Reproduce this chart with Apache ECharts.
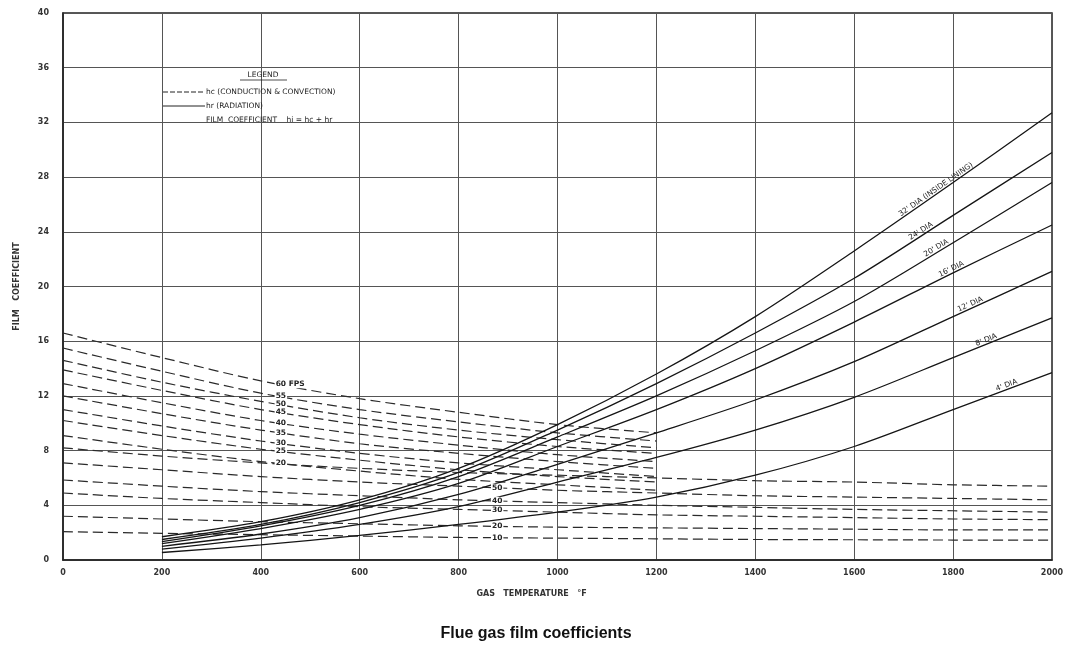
<!DOCTYPE html>
<html><head><meta charset="utf-8">
<script src="https://cdn.jsdelivr.net/npm/echarts@6/dist/echarts.min.js"></script>
<style>html,body{margin:0;padding:0;background:#fff}#c{width:1072px;height:651px}</style>
</head><body><div id="c"></div>
<script>
// ---------- data ----------
const xTickValues = [0,200,400,600,800,1000,1200,1400,1600,1800,2000];
const yTickValues = [0,4,8,12,16,20,24,28,32,36,40];

// convection (dashed), upper family ends at 1200 F
const upperTemps = [0,200,400,600,800,1000,1200];
const upperLabels = ['60 FPS','55','50','45','40','35','30','25','20'];
const hc60 = [16.6,14.8,13.1,11.8,10.8,9.9,9.3];
const hc55 = [15.5,13.8,12.2,11.0,10.1,9.3,8.7];
const hc50 = [14.6,13.0,11.6,10.4,9.5,8.8,8.2];
const hc45 = [13.9,12.4,11.0,9.9,9.0,8.3,7.8];
const hc40 = [12.9,11.5,10.2,9.2,8.4,7.7,7.2];
const hc35 = [12.0,10.7,9.5,8.5,7.8,7.2,6.7];
const hc30 = [11.0,9.8,8.7,7.8,7.1,6.6,6.1];
const hc25 = [10.2,9.1,8.1,7.3,6.6,6.1,5.7];
const hc20 = [9.1,8.1,7.2,6.5,5.9,5.5,5.1];

// convection (dashed), lower family runs to 2000 F
const lowerTemps = [0,200,400,600,800,1000,1200,1400,1600,1800,2000];
const lowerLabels = ['','50','40','30','20','10'];
const hcL1 = [8.2,7.6,7.1,6.7,6.4,6.2,6.0,5.8,5.7,5.5,5.4];
const hcL2 = [7.1,6.6,6.1,5.7,5.4,5.1,4.9,4.7,4.6,4.5,4.4];
const hcL3 = [5.85,5.4,5.0,4.7,4.4,4.2,4.0,3.85,3.7,3.6,3.5];
const hcL4 = [4.9,4.5,4.2,3.9,3.7,3.5,3.3,3.2,3.1,3.0,2.95];
const hcL5 = [3.2,3.0,2.8,2.65,2.5,2.4,2.35,2.3,2.25,2.2,2.2];
const hcL6 = [2.07,1.95,1.85,1.75,1.65,1.6,1.55,1.5,1.48,1.46,1.45];

// radiation (solid)
const radTemps = [200,400,600,800,1000,1200,1400,1600,1800,2000];
const radLabels = ["32' DIA (INSIDE LINING)","24' DIA","20' DIA","16' DIA","12' DIA","8' DIA","4' DIA"];
const hr32 = [1.7,2.8,4.4,6.7,9.9,13.6,17.8,22.6,27.6,32.7];
const hr24 = [1.5,2.6,4.2,6.4,9.5,12.9,16.6,20.6,25.2,29.8];
const hr20 = [1.35,2.5,4.0,6.1,9.0,12.0,15.3,18.9,23.2,27.6];
const hr16 = [1.2,2.3,3.7,5.6,8.3,11.0,14.0,17.4,21.0,24.5];
const hr12 = [1.0,1.9,3.1,4.8,7.0,9.3,11.7,14.5,17.8,21.1];
const hr8  = [0.8,1.6,2.6,3.9,5.7,7.5,9.5,11.9,14.8,17.7];
const hr4  = [0.55,1.1,1.8,2.6,3.5,4.6,6.2,8.3,11.0,13.7];
const radLabelAt = [1770,1739,1770,1800,1838,1870,1911];

// ---------- build ----------
const upperSets = [hc60,hc55,hc50,hc45,hc40,hc35,hc30,hc25,hc20];
const lowerSets = [hcL1,hcL2,hcL3,hcL4,hcL5,hcL6];
const radSets = [hr32,hr24,hr20,hr16,hr12,hr8,hr4];
const zip = (xs, ys) => xs.map((x,i)=>[x, ys[i]]);

const series = [];
const dashStyle = {color:'#2a2a2a', width:1.2, type:[10,5]};
upperSets.forEach((d,i)=>series.push({type:'line', data:zip(upperTemps,d), showSymbol:false, smooth:0.3, lineStyle:dashStyle, silent:true, z:2}));
lowerSets.forEach((d,i)=>series.push({type:'line', data:zip(lowerTemps,d), showSymbol:false, smooth:0.3, lineStyle:dashStyle, silent:true, z:2}));
radSets.forEach((d,i)=>series.push({type:'line', data:zip(radTemps,d), showSymbol:false, smooth:0.3, lineStyle:{color:'#151515', width:1.3}, silent:true, z:3}));

const axisFont = {fontFamily:'DejaVu Sans', fontSize:8, fontWeight:'bold', color:'#333'};
const option = {
  backgroundColor:'#fff',
  animation:false,
  title:{text:'Flue gas film coefficients', left:'center', top:621,
    textStyle:{fontFamily:'Liberation Sans Narrow, Liberation Sans', fontWeight:'bold', fontSize:16, color:'#111'}},
  grid:{left:63, right:20, top:13, bottom:91, show:true, borderColor:'#222', borderWidth:1.5, backgroundColor:'transparent'},
  xAxis:{type:'value', min:0, max:2000, interval:200,
    name:'GAS   TEMPERATURE   °F', nameLocation:'middle', nameGap:30,
    nameTextStyle:Object.assign({}, axisFont, {padding:[0,52,0,0]}),
    axisLine:{show:true, lineStyle:{color:'#222', width:1.5}}, axisTick:{show:false},
    axisLabel:Object.assign({margin:9, formatter:v=>xTickValues.includes(v)?String(v):''}, axisFont),
    splitLine:{show:true, lineStyle:{color:'#555', width:1}}},
  yAxis:{type:'value', min:0, max:40, interval:4,
    name:'FILM   COEFFICIENT', nameLocation:'middle', nameGap:42, nameRotate:90,
    nameTextStyle:axisFont,
    axisLine:{show:true, lineStyle:{color:'#222', width:1.5}}, axisTick:{show:false},
    axisLabel:Object.assign({margin:14, formatter:v=>yTickValues.includes(v)?String(v):''}, axisFont),
    splitLine:{show:true, lineStyle:{color:'#555', width:1}}},
  series:series
};

const chart = echarts.init(document.getElementById('c'), null, {renderer:'canvas'});
chart.setOption(option);

function interp(xs, ys, x){
  for(let i=0;i<xs.length-1;i++){
    if(x>=xs[i] && x<=xs[i+1]){const t=(x-xs[i])/(xs[i+1]-xs[i]); return ys[i]+t*(ys[i+1]-ys[i]);}
  }
  return ys[ys.length-1];
}
const px = (x,y)=>chart.convertToPixel({gridIndex:0},[x,y]);
const smallFont = '7.5px "DejaVu Sans"';
const graphics = [];

// radiation labels along curves
radSets.forEach((d,i)=>{
  const x = radLabelAt[i];
  const p = px(x, interp(radTemps,d,x));
  const a = px(x-80, interp(radTemps,d,x-80));
  const b = px(x+80, interp(radTemps,d,x+80));
  const ang = Math.atan2(a[1]-b[1], b[0]-a[0]);
  graphics.push({type:'text', x:p[0], y:p[1], rotation:ang, z:10,
    style:{text:radLabels[i], font:smallFont, fill:'#222', align:'center', verticalAlign:'bottom'}});
});
// upper dashed labels
upperSets.forEach((d,i)=>{
  const x = 428;
  const p = px(x, interp(upperTemps,d,x+10));
  graphics.push({type:'text', x:p[0], y:p[1], z:10,
    style:{text:upperLabels[i], font:'bold 7.5px "DejaVu Sans"', fill:'#222', align:'left', verticalAlign:'middle',
      backgroundColor:'#fff', padding:[0,1]}});
});
// lower dashed labels
lowerSets.forEach((d,i)=>{
  if(!lowerLabels[i]) return;
  const x = 878;
  const p = px(x, interp(lowerTemps,d,x));
  graphics.push({type:'text', x:p[0], y:p[1], z:10,
    style:{text:lowerLabels[i], font:'bold 7.5px "DejaVu Sans"', fill:'#222', align:'center', verticalAlign:'middle',
      backgroundColor:'#fff', padding:[0,1]}});
});
// legend block
graphics.push({type:'text', x:263, y:75, z:10, style:{text:'LEGEND', font:smallFont, fill:'#222', align:'center', verticalAlign:'middle'}});
graphics.push({type:'line', z:10, shape:{x1:240,y1:80,x2:287,y2:80}, style:{stroke:'#222', lineWidth:0.8}});
graphics.push({type:'line', z:10, shape:{x1:163,y1:92,x2:205,y2:92}, style:{stroke:'#222', lineWidth:1, lineDash:[5,2]}});
graphics.push({type:'text', x:206, y:92, z:10, style:{text:'hc (CONDUCTION & CONVECTION)', font:smallFont, fill:'#222', align:'left', verticalAlign:'middle'}});
graphics.push({type:'line', z:10, shape:{x1:163,y1:106,x2:205,y2:106}, style:{stroke:'#222', lineWidth:1}});
graphics.push({type:'text', x:206, y:106, z:10, style:{text:'hr (RADIATION)', font:smallFont, fill:'#222', align:'left', verticalAlign:'middle'}});
graphics.push({type:'text', x:206, y:120, z:10, style:{text:'FILM  COEFFICIENT    hi = hc + hr', font:smallFont, fill:'#222', align:'left', verticalAlign:'middle'}});

chart.setOption({graphic:graphics});
</script>
</body></html>
